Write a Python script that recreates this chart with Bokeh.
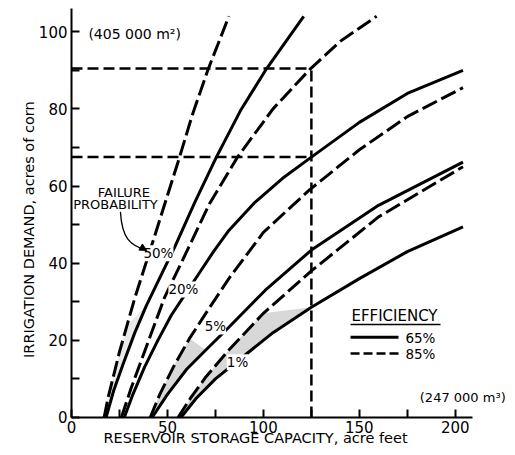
from math import pi
from bokeh.plotting import figure
from bokeh.models import Label, FixedTicker, Arrow, NormalHead
from bokeh.embed import file_html
from bokeh.resources import INLINE

# ---- data (storage in acre feet, demand in acres of corn)
# 50 % failure probability
p50_e85_x = [17, 19, 21.5, 25, 29, 33, 37.5, 43, 49, 56, 63, 71, 82]
p50_e85_y = [0, 5, 10, 17, 24, 31, 38, 46.5, 56, 67, 78.5, 90, 104]
p50_e65_x = [18, 22, 27, 33, 39, 45.8, 53.6, 64, 75.5, 88, 101.6, 121]
p50_e65_y = [0, 7, 14, 22, 29, 36, 44, 55.5, 67.5, 79.5, 90.4, 104]
# 20 %
p20_e85_x = [26, 31, 38, 48.4, 60, 72, 86.5, 105, 124.5, 140, 159]
p20_e85_y = [0, 7.5, 17, 31, 43, 55.5, 67.5, 80, 90.4, 97.5, 104]
p20_e65_x = [27.5, 32, 38, 45, 52, 60, 66, 74, 82, 95, 110, 125, 150, 175, 204]
p20_e65_y = [0, 6, 13, 20, 26.5, 32.5, 37, 43, 48.5, 55.5, 62, 67.5, 76.5, 84, 90]
# 5 %
p5_e85_x = [41, 46, 53, 61.5, 70, 82, 100, 124, 150, 175, 204]
p5_e85_y = [0, 6, 13, 20.5, 27, 36, 48, 59, 69.4, 78, 85.5]
p5_e65_x = [42, 50, 60, 70, 82, 101, 125, 160, 204]
p5_e65_y = [0, 6, 12.5, 17.5, 23.4, 33, 43.4, 55, 66.2]
# 1 %
p1_e85_x = [55.5, 62, 70, 82, 100, 125, 160, 204]
p1_e85_y = [0, 5, 10.5, 17.5, 27, 38, 52, 65]
p1_e65_x = [57, 65, 75, 90, 105, 125, 150, 175, 204]
p1_e65_y = [0, 5, 10, 16, 22, 28.6, 36, 43, 49.4]

# example reading
ref_capacity = 125
ref_demand = [90.5, 67.5]

x_major = [0, 50, 100, 150, 200]
x_minor = [25, 75, 125, 175]
y_major = [0, 20, 40, 60, 80, 100]
y_minor = [10, 30, 50, 70, 90]

prob_labels = ["50%", "20%", "5%", "1%"]
legend_labels = ["65%", "85%"]

FONT = "DejaVu Sans"

# frame covers the whole canvas; axes are pinned at x=0 / y=0
p = figure(width=507, height=447, x_range=(-37.0, 227.2), y_range=(-7.78, 108.1),
           output_backend="svg", toolbar_location=None,
           min_border_left=0, min_border_right=0, min_border_top=0,
           min_border_bottom=0)
p.outline_line_color = None
p.grid.visible = False
p.background_fill_color = "white"

p.xaxis.fixed_location = 0
p.yaxis.fixed_location = 0
p.xaxis.bounds = (0, 209)
p.yaxis.bounds = (0, 106)

for ax, maj, mnr in ((p.xaxis, x_major, x_minor), (p.yaxis, y_major, y_minor)):
    ax.ticker = FixedTicker(ticks=maj, minor_ticks=mnr)
    ax.axis_line_width = 2
    ax.axis_line_color = "black"
    ax.major_tick_in = 8
    ax.major_tick_out = 0
    ax.minor_tick_in = 8
    ax.minor_tick_out = 0
    ax.major_tick_line_width = 2
    ax.minor_tick_line_width = 2
    ax.major_tick_line_color = "black"
    ax.minor_tick_line_color = "black"
    ax.major_label_text_font = FONT
    ax.major_label_text_font_size = "15px"
    ax.major_label_text_color = "black"
    ax.major_label_standoff = 4

# light stippled bands seen between paired curves near the bottom
def band(xa, ya, xb, yb, ymax):
    pa = [(x, y) for x, y in zip(xa, ya) if y <= ymax]
    pb = [(x, y) for x, y in zip(xb, yb) if y <= ymax]
    poly = pa + pb[::-1]
    return [q[0] for q in poly], [q[1] for q in poly]

for xa, ya, xb, yb, ym, al in (
        (p50_e85_x, p50_e85_y, p50_e65_x, p50_e65_y, 30, 0.25),
        (p5_e85_x, p5_e85_y, p5_e65_x, p5_e65_y, 21, 0.45),
        (p1_e85_x, p1_e85_y, p1_e65_x, p1_e65_y, 29, 0.45)):
    bx, by = band(xa, ya, xb, yb, ym)
    p.patch(bx, by, fill_color="#a8a8a8", fill_alpha=al, line_color=None)

# example reading lines
p.segment(x0=[0, 0], y0=ref_demand, x1=[ref_capacity] * 2, y1=ref_demand,
          line_color="black", line_width=2.5, line_dash="11 5")
p.segment(x0=[ref_capacity], y0=[0], x1=[ref_capacity], y1=[max(ref_demand)],
          line_color="black", line_width=2.5, line_dash="11 5")

curves = [
    (p50_e85_x, p50_e85_y, "dashed"), (p50_e65_x, p50_e65_y, "solid"),
    (p20_e85_x, p20_e85_y, "dashed"), (p20_e65_x, p20_e65_y, "solid"),
    (p5_e85_x, p5_e85_y, "dashed"), (p5_e65_x, p5_e65_y, "solid"),
    (p1_e85_x, p1_e85_y, "dashed"), (p1_e65_x, p1_e65_y, "solid"),
]
for xs, ys, st in curves:
    if st == "dashed":
        p.line(xs, ys, line_color="black", line_width=3, line_dash="16 5")
    else:
        p.line(xs, ys, line_color="black", line_width=3)

def lab(x, y, text, size="13px", align="center", baseline="middle", angle=0, bg=None):
    l = Label(x=x, y=y, text=text, text_font=FONT, text_font_size=size,
              text_align=align, text_baseline=baseline, angle=angle,
              text_color="black")
    if bg:
        l.background_fill_color = bg
    p.add_layout(l)

# probability labels on curves
for (x, y), t in zip([(45.3, 42.6), (58.3, 33.2), (75.0, 23.6), (86.5, 14.3)], prob_labels):
    lab(x, y, t, size="13.5px", bg="white")

# failure probability note with arrow
lab(27.3, 58.2, "FAILURE", size="13px")
lab(22.9, 55.1, "PROBABILITY", size="13px")
p.bezier(x0=[25.5], y0=[53.3], x1=[39.0], y1=[43.4], cx0=[26.3], cy0=[46.5],
         cx1=[30.5], cy1=[44.5], line_color="black", line_width=1.3)
p.add_layout(Arrow(x_start=36.0, y_start=44.2, x_end=39.2, y_end=43.3,
                   line_alpha=0, end=NormalHead(size=7, fill_color="black",
                                                 line_color="black")))

# unit notes
lab(8.8, 99.5, "(405 000 m²)", size="14px", align="left")
lab(181.5, 5.2, "(247 000 m³)", size="13px", align="left")

# axis titles
lab(95.9, -5.4, "RESERVOIR STORAGE CAPACITY, acre feet", size="14.5px")
lab(-22.4, 48.7, "IRRIGATION DEMAND, acres of corn", size="14.5px", angle=pi / 2)

# legend
lab(168.3, 26.2, "EFFICIENCY", size="15px")
p.segment(x0=[145.4], y0=[24.1], x1=[192.3], y1=[24.1], line_color="black", line_width=1.5)
p.segment(x0=[145.4], y0=[20.8], x1=[170.4], y1=[20.8], line_color="black", line_width=3)
p.segment(x0=[145.4], y0=[16.6], x1=[170.4], y1=[16.6], line_color="black", line_width=2.5,
          line_dash="9 4")
lab(174.0, 20.7, legend_labels[0], size="13.5px", align="left")
lab(174.0, 16.5, legend_labels[1], size="13.5px", align="left")

open("out.html", "w").write(file_html(p, INLINE))
